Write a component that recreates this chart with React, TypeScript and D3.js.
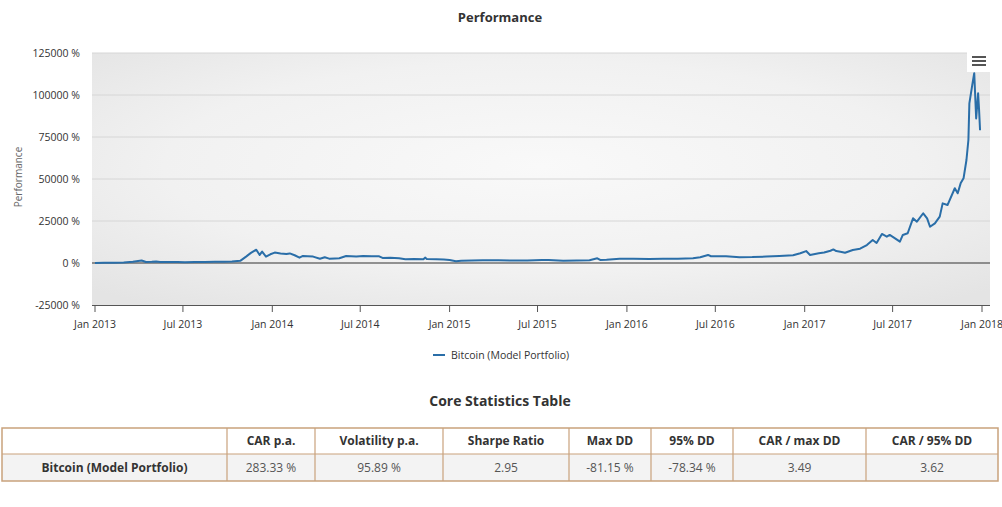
import React from "react";
import * as d3 from "d3";

const dates: string[] = [
  "2013-01-01","2013-01-20","2013-02-10","2013-03-01","2013-03-20","2013-04-07","2013-04-16","2013-04-28","2013-05-07","2013-05-15",
  "2013-06-01","2013-06-20","2013-07-05","2013-07-25","2013-08-15","2013-09-05","2013-09-25","2013-10-10","2013-10-27","2013-11-08",
  "2013-11-18","2013-11-29","2013-12-06","2013-12-11","2013-12-19","2013-12-28","2014-01-06","2014-01-18","2014-01-30","2014-02-06",
  "2014-02-16","2014-02-26","2014-03-05","2014-03-15","2014-03-26","2014-04-09","2014-04-19","2014-04-28","2014-05-10","2014-05-19",
  "2014-06-02","2014-06-12","2014-06-23","2014-07-07","2014-07-25","2014-08-09","2014-08-16","2014-09-01","2014-09-19","2014-10-02",
  "2014-10-20","2014-11-08","2014-11-12","2014-11-15","2014-12-05","2014-12-20","2015-01-01","2015-01-14","2015-01-25","2015-02-15",
  "2015-03-10","2015-04-12","2015-05-10","2015-06-10","2015-07-10","2015-07-24","2015-08-23","2015-09-20","2015-10-16","2015-11-01",
  "2015-11-07","2015-11-20","2015-12-17","2016-01-15","2016-02-16","2016-03-15","2016-04-15","2016-05-16","2016-05-31","2016-06-16",
  "2016-06-22","2016-07-23","2016-08-20","2016-09-15","2016-10-14","2016-11-10","2016-12-08","2016-12-23","2017-01-04","2017-01-12",
  "2017-01-30","2017-02-10","2017-02-23","2017-03-01","2017-03-07","2017-03-18","2017-03-25","2017-04-10","2017-04-25","2017-05-09",
  "2017-05-21","2017-05-29","2017-06-09","2017-06-19","2017-06-25","2017-07-06","2017-07-16","2017-07-22","2017-08-01","2017-08-12",
  "2017-08-20","2017-09-02","2017-09-10","2017-09-16","2017-09-26","2017-10-06","2017-10-12","2017-10-22","2017-11-06","2017-11-12",
  "2017-11-18","2017-11-24","2017-11-30","2017-12-04","2017-12-06","2017-12-12","2017-12-16","2017-12-20","2017-12-24","2017-12-26",
  "2017-12-28"
];

const performance: number[] = [
  0,100,200,350,700,1500,600,700,900,650,
  650,550,500,550,650,700,750,850,1300,3800,
  6000,7900,4800,6800,3800,5200,6200,5700,5400,5700,
  4600,3200,4200,4000,3800,2500,3400,2600,2700,2800,
  4200,4000,3800,4200,4000,4000,3000,3100,2800,2200,
  2400,2200,3200,2400,2300,2100,1800,1100,1400,1500,
  1600,1600,1500,1500,1800,1800,1400,1500,1600,2800,
  1800,2000,2600,2500,2400,2500,2600,2800,3400,4800,
  4000,4000,3400,3500,3800,4200,4600,5800,7100,4800,
  5800,6200,7300,8100,7100,6600,6100,7700,8500,10700,
  13700,11900,17300,15700,16700,14700,12700,16700,17700,26600,
  24600,29600,26600,21600,23600,27600,35500,34500,44500,41500,
  47400,50400,61300,73200,95000,106000,113000,86000,101000,91000,
  79000
];

const yTicks: number[] = [-25000, 0, 25000, 50000, 75000, 100000, 125000];
const seriesName = "Bitcoin (Model Portfolio)";

const tableHeaders: string[] = ["", "CAR p.a.", "Volatility p.a.", "Sharpe Ratio", "Max DD", "95% DD", "CAR / max DD", "CAR / 95% DD"];
const tableRow: string[] = [seriesName, "283.33 %", "95.89 %", "2.95", "-81.15 %", "-78.34 %", "3.49", "3.62"];
const colEdges: number[] = [2, 227, 315, 443, 569, 651, 733, 866, 998];

const FONT = "'Open Sans', 'Noto Sans', sans-serif";

export default function App() {
  const parse = d3.timeParse("%Y-%m-%d");
  const data = dates.map((d, i) => ({ date: parse(d) as Date, value: performance[i] }));

  const plotLeft = 92, plotRight = 990, plotTop = 53, plotBottom = 305;

  const x = d3.scaleTime()
    .domain([new Date(2013, 0, 1), new Date(2018, 0, 1)])
    .range([95, 982]);
  const y = d3.scaleLinear().domain([-25000, 125000]).range([plotBottom, plotTop]);

  const line = d3.line<{ date: Date; value: number }>()
    .x(d => x(d.date))
    .y(d => y(d.value))
    .curve(d3.curveLinear);

  const xTicks = d3.timeMonth.range(new Date(2013, 0, 1), new Date(2018, 0, 2), 6);
  const fmt = d3.timeFormat("%b %Y");

  const tTop = 428, tMid = 454, tBot = 481;
  const border = "#c9a27c";

  return (
    <svg width={1002} height={507} style={{ position: "absolute", left: 0, top: 0, background: "#fff" }}
      fontFamily={FONT}>
      <defs>
        <radialGradient id="bg" cx="50%" cy="45%" r="70%">
          <stop offset="0%" stopColor="#f9f9f9" />
          <stop offset="60%" stopColor="#f1f1f1" />
          <stop offset="100%" stopColor="#e4e4e4" />
        </radialGradient>
        <clipPath id="plotClip">
          <rect x={plotLeft} y={plotTop - 2} width={plotRight - plotLeft} height={plotBottom - plotTop + 2} />
        </clipPath>
      </defs>

      <text x={500} y={22} textAnchor="middle" fontSize={13} fontWeight="bold" fill="#333">Performance</text>

      <rect x={plotLeft} y={plotTop} width={plotRight - plotLeft} height={plotBottom - plotTop} fill="url(#bg)" />

      {yTicks.map(t => (
        <g key={t}>
          {t !== 0 && t !== -25000 && (
            <line x1={plotLeft} x2={plotRight} y1={y(t)} y2={y(t)} stroke="#d6d6d6" strokeWidth={1} />
          )}
          <text x={80} y={y(t) + 4} textAnchor="end" fontSize={10.5} fill="#333">{`${t} %`}</text>
        </g>
      ))}

      <line x1={plotLeft} x2={plotRight} y1={y(0)} y2={y(0)} stroke="#333" strokeWidth={1.2} />

      <line x1={plotLeft} x2={plotRight} y1={plotBottom + 0.5} y2={plotBottom + 0.5} stroke="#555" strokeWidth={1} />
      {xTicks.map((t, i) => (
        <g key={i}>
          <line x1={x(t)} x2={x(t)} y1={plotBottom} y2={plotBottom + 7} stroke="#555" strokeWidth={1} />
          <text x={x(t)} y={plotBottom + 23} textAnchor="middle" fontSize={10.5} fill="#333">{fmt(t)}</text>
        </g>
      ))}

      <text transform={`translate(22,${(plotTop + plotBottom) / 2 - 2}) rotate(-90)`} textAnchor="middle" fontSize={10} fill="#666">Performance</text>

      <path d={line(data) || ""} fill="none" stroke="#2a6ea8" strokeWidth={2} strokeLinejoin="round" clipPath="url(#plotClip)" />

      <g>
        <rect x={967} y={50} width={23} height={22} fill="#fff" />
        {[0, 1, 2].map(i => (
          <line key={i} x1={972} x2={986} y1={57 + i * 4} y2={57 + i * 4} stroke="#555" strokeWidth={2} />
        ))}
      </g>

      <line x1={433} x2={445} y1={355} y2={355} stroke="#2a6ea8" strokeWidth={2} />
      <text x={451} y={359} fontSize={10.5} fill="#333">{seriesName}</text>

      <text x={500} y={406} textAnchor="middle" fontSize={14} fontWeight="bold" fill="#333">Core Statistics Table</text>

      <rect x={colEdges[0]} y={tMid} width={colEdges[colEdges.length - 1] - colEdges[0]} height={tBot - tMid} fill="#f3f3f3" />
      <rect x={colEdges[0]} y={tTop} width={colEdges[colEdges.length - 1] - colEdges[0]} height={tBot - tTop} fill="none" stroke={border} strokeWidth={1.5} />
      <line x1={colEdges[0]} x2={colEdges[colEdges.length - 1]} y1={tMid} y2={tMid} stroke={border} strokeWidth={1.2} />
      {colEdges.slice(1, -1).map((e, i) => (
        <line key={i} x1={e} x2={e} y1={tTop} y2={tBot} stroke={border} strokeWidth={1.2} />
      ))}
      {tableHeaders.map((h, i) => (
        <text key={"h" + i} x={(colEdges[i] + colEdges[i + 1]) / 2} y={tTop + 17} textAnchor="middle" fontSize={12} fontWeight="bold" fill="#333">{h}</text>
      ))}
      {tableRow.map((c, i) => (
        <text key={"r" + i} x={(colEdges[i] + colEdges[i + 1]) / 2} y={tMid + 18} textAnchor="middle" fontSize={12}
          fontWeight={i === 0 ? "bold" : "normal"} fill={i === 0 ? "#333" : "#555"}>{c}</text>
      ))}
    </svg>
  );
}
